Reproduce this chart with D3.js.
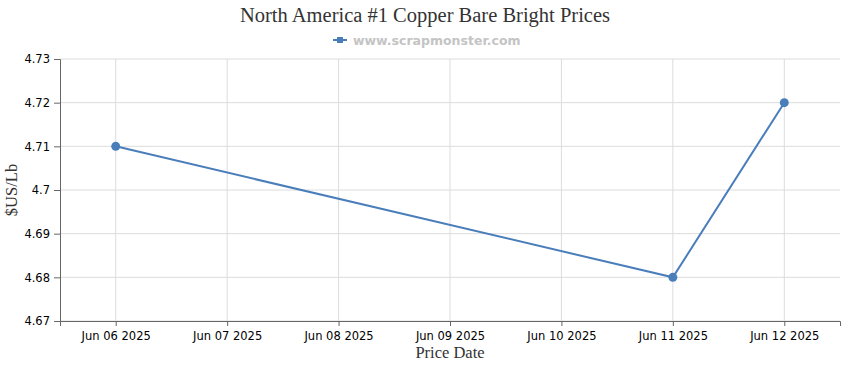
<!DOCTYPE html>
<html>
<head>
<meta charset="utf-8">
<script src="https://cdn.jsdelivr.net/npm/d3@7"></script>
<style>
  body { margin: 0; background: #fff; }
  .tick text { font-family: "DejaVu Sans", Verdana, sans-serif; font-size: 11.5px; fill: #000; }
</style>
</head>
<body>
<svg id="root"></svg>
<script>
// Price chart for #1 Copper Bare Bright

const dates = ["Jun 06 2025", "Jun 07 2025", "Jun 08 2025", "Jun 09 2025", "Jun 10 2025", "Jun 11 2025", "Jun 12 2025"];
const priceDates = ["Jun 06 2025", "Jun 11 2025", "Jun 12 2025"];
const prices = [4.71, 4.68, 4.72];
const yTicks = [4.67, 4.68, 4.69, 4.7, 4.71, 4.72, 4.73];

const W = 850, H = 370;
const margin = { top: 59, right: 10, bottom: 49, left: 60 },
  width = W - margin.left - margin.right,
  height = H - margin.top - margin.bottom;

const root = d3.select("#root").attr("width", W).attr("height", H);
const svg = root.append("g").attr("transform", `translate(${margin.left},${margin.top})`);

const data = priceDates.map((d, i) => [d, prices[i]]);

let xScale = d3.scalePoint(dates, [0, width]).padding(0.5);
let yScale = d3.scaleLinear([4.67, 4.73], [height, 0]);

// grid
svg.append("g")
  .selectAll("line.h")
  .data(yTicks)
  .join("line")
  .attr("x1", 0).attr("x2", width)
  .attr("y1", d => yScale(d)).attr("y2", d => yScale(d))
  .attr("stroke", "#dcdcdc");
svg.append("g")
  .selectAll("line.v")
  .data(dates)
  .join("line")
  .attr("x1", d => xScale(d)).attr("x2", d => xScale(d))
  .attr("y1", 0).attr("y2", height)
  .attr("stroke", "#dcdcdc");

// axes
let xAxis = d3.axisBottom(xScale).tickSizeOuter(0).tickSize(5).tickPadding(6);
let yAxis = d3.axisLeft(yScale).tickValues(yTicks).tickFormat(d3.format("")).tickSizeOuter(0).tickSize(6).tickPadding(4);
const gx = svg.append("g").attr("transform", `translate(0,${height})`).call(xAxis);
const gy = svg.append("g").call(yAxis);
gx.selectAll(".domain, line").attr("stroke", "#666");
gy.selectAll(".domain, line").attr("stroke", "#666");

// line
let line = d3.line()
  .x(d => xScale(d[0]))
  .y(d => yScale(d[1]));
svg.append("path")
  .datum(data)
  .attr("fill", "none")
  .attr("stroke", "#4a7ebb")
  .attr("stroke-width", 2)
  .attr("d", line);
svg.selectAll("circle")
  .data(data)
  .join("circle")
  .attr("cx", d => xScale(d[0]))
  .attr("cy", d => yScale(d[1]))
  .attr("r", 4.5)
  .attr("fill", "#4a7ebb");

// title
root.append("text")
  .attr("x", W / 2).attr("y", 22)
  .attr("text-anchor", "middle")
  .style("font-family", "'Liberation Serif', 'Times New Roman', serif")
  .style("font-size", "20.5px")
  .attr("fill", "#333")
  .text("North America #1 Copper Bare Bright Prices");

// legend
const lg = root.append("g").attr("transform", "translate(333,40)");
lg.append("line").attr("x1", 0).attr("x2", 14).attr("y1", 0).attr("y2", 0)
  .attr("stroke", "#4a7ebb").attr("stroke-width", 2);
lg.append("rect").attr("x", 4).attr("y", -3).attr("width", 6).attr("height", 6).attr("fill", "#4a7ebb");
lg.append("text").attr("x", 20).attr("y", 4.5)
  .style("font-family", "'DejaVu Sans', Verdana, sans-serif")
  .style("font-size", "12.5px")
  .style("font-weight", "bold")
  .attr("fill", "#c4c4c4")
  .text("www.scrapmonster.com");

// axis labels
root.append("text")
  .attr("x", margin.left + width / 2).attr("y", 358)
  .attr("text-anchor", "middle")
  .style("font-family", "'Liberation Serif', 'Times New Roman', serif")
  .style("font-size", "16.5px")
  .attr("fill", "#333")
  .text("Price Date");
root.append("text")
  .attr("transform", "translate(17,190) rotate(-90)")
  .attr("text-anchor", "middle")
  .style("font-family", "'Liberation Serif', 'Times New Roman', serif")
  .style("font-size", "16.5px")
  .attr("fill", "#333")
  .text("$US/Lb");
</script>
</body>
</html>
